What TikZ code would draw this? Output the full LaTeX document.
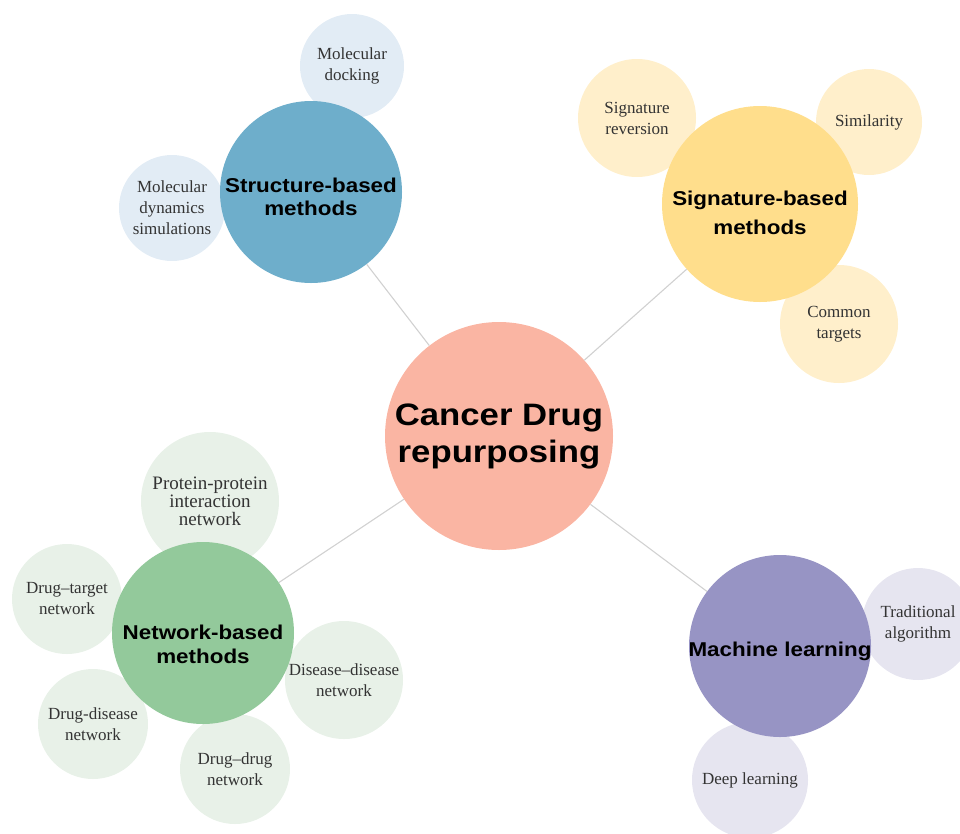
\documentclass[tikz,border=0pt]{standalone}
\usepackage{fontspec}
\setmainfont{Liberation Serif}
\newfontfamily\headfont[FakeStretch=1.12]{Liberation Sans}

\definecolor{hubred}{HTML}{FAB5A3}
\definecolor{strucblue}{HTML}{6EAECB}
\definecolor{struclight}{HTML}{E2ECF5}
\definecolor{sigyellow}{HTML}{FFDE8C}
\definecolor{siglight}{HTML}{FFEFCB}
\definecolor{netgreen}{HTML}{93C99B}
\definecolor{netlight}{HTML}{E8F1E8}
\definecolor{mlpurple}{HTML}{9794C4}
\definecolor{mllight}{HTML}{E6E5F0}

\tikzset{
  leaf/.style={circle, inner sep=0pt, minimum size=#1, align=center,
    text=black!80, font=\fontsize{17}{21}\selectfont},
  branch/.style={circle, inner sep=0pt, minimum size=#1},
  headtext/.style={align=center, text=black,
    font=\headfont\bfseries\fontsize{20}{#1}\selectfont},
  spoke/.style={draw=black!18, line width=1.1pt}
}

\begin{document}
\begin{tikzpicture}[x=1pt,y=-1pt]

    \useasboundingbox (0,0) rectangle (960,833);

    % satellite topics
    \node[leaf=104, fill=struclight] (dock) at (352,66) {Molecular\\docking};
    \node[leaf=106, fill=struclight] (mdsim) at (172,208) {Molecular\\dynamics\\simulations};

    \node[leaf=118, fill=siglight] (sigrev) at (637,118) {Signature\\reversion};
    \node[leaf=106, fill=siglight] (simil) at (869,122) {Similarity};
    \node[leaf=118, fill=siglight] (common) at (839,324) {Common\\targets};

    \node[leaf=138, fill=netlight, font=\fontsize{19}{18}\selectfont] (ppi) at (210,501) {Protein-protein\\interaction\\network};
    \node[leaf=110, fill=netlight] (drugtgt) at (67,599) {Drug--target\\network};
    \node[leaf=118, fill=netlight] (disdis) at (344,680) {Disease--disease\\network};
    \node[leaf=110, fill=netlight] (drugdis) at (93,724) {Drug-disease\\network};
    \node[leaf=110, fill=netlight] (drugdrug) at (235,769) {Drug--drug\\network};

    \node[leaf=112, fill=mllight] (trad) at (918,624) {Traditional\\algorithm};
    \node[leaf=116, fill=mllight] (deep) at (750,780) {Deep learning};

    % main branches
    \node[branch=182, fill=strucblue,
      label={[headtext=23, yshift=-5pt]center:Structure-based\\methods}] (struc) at (311,192) {};
    \node[branch=196, fill=sigyellow,
      label={[headtext=29, yshift=-9pt]center:Signature-based\\methods}] (sig) at (760,204) {};
    \node[branch=182, fill=netgreen,
      label={[headtext=24, yshift=-11pt]center:Network-based\\methods}] (net) at (203,633) {};
    \node[branch=182, fill=mlpurple,
      label={[headtext=24, yshift=-5pt]center:Machine learning}] (ml) at (780,646) {};

    % hub
    \node[branch=228, fill=hubred, align=center,
      font=\headfont\bfseries\fontsize{31}{37}\selectfont] (hub) at (499,436) {Cancer Drug\\repurposing};

    \draw[spoke] (hub) -- (struc);
    \draw[spoke] (hub) -- (sig);
    \draw[spoke] (hub) -- (net);
    \draw[spoke] (hub) -- (ml);

\end{tikzpicture}
\end{document}
